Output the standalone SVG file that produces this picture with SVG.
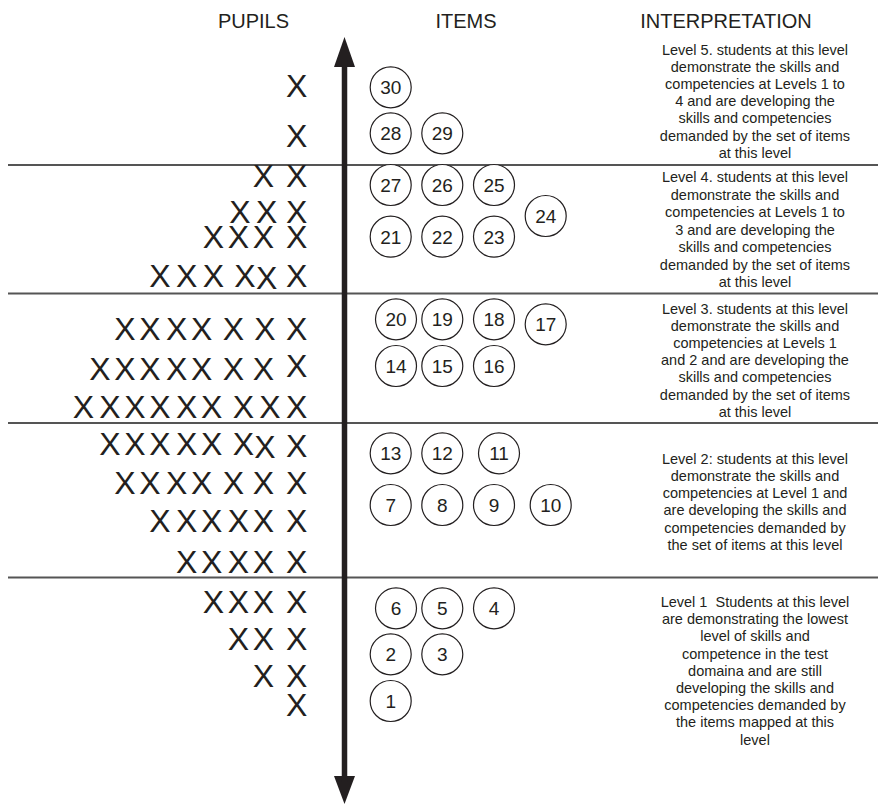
<svg xmlns="http://www.w3.org/2000/svg" width="878" height="805" viewBox="0 0 878 805">
<style>
text { font-family: "Liberation Sans", Arial, sans-serif; fill: #231f20; }
.hdr { font-size: 20px; text-anchor: middle; }
.x { font-size: 32px; text-anchor: middle; }
.num { font-size: 19px; text-anchor: middle; }
.interp { font-size: 14.5px; text-anchor: middle; white-space: pre; }
.item circle { fill: #fff; stroke: #231f20; stroke-width: 1.2; }
.sep { stroke: #555; stroke-width: 1.8; }
</style>
<defs>
<marker id="ah" viewBox="0 0 21 30" refX="0" refY="10.5" markerWidth="30" markerHeight="21" markerUnits="userSpaceOnUse" orient="auto-start-reverse">
<path d="M0,0 L30,10.5 L0,21 Z" fill="#231f20"/>
</marker>
</defs>
<rect width="878" height="805" fill="#fff"/>

<g id="headers">
<text class="hdr" x="253.5" y="28">PUPILS</text>
<text class="hdr" x="466" y="28">ITEMS</text>
<text class="hdr" x="726" y="28">INTERPRETATION</text>
</g>

<g id="separators">
<line class="sep" x1="8" y1="165" x2="878" y2="165"/>
<line class="sep" x1="8" y1="293.5" x2="878" y2="293.5"/>
<line class="sep" x1="8" y1="423" x2="878" y2="423"/>
<line class="sep" x1="8" y1="577.5" x2="878" y2="577.5"/>
</g>

<g id="connectors">
<polygon points="344.5,37 334,67 355,67" fill="#231f20"/>
<polygon points="344.5,804 334,776 355,776" fill="#231f20"/>
<line x1="344.5" y1="60" x2="344.5" y2="782" stroke="#231f20" stroke-width="5.5"/>
</g>

<g id="pupils">
<text class="x" x="296.7" y="97">X</text>
<text class="x" x="296.7" y="147">X</text>
<text class="x" x="263.3 280 296.7" y="187">X X</text>
<text class="x" x="240 266.7 282 296.7" y="223">XX X</text>
<text class="x" x="213.3 238.3 263.3 280 296.7" y="248">XXX X</text>
<text class="x" x="160 186.7 213.3 229 245 266.7 296.7" y="287 287 287 287 287 289 287">XXX XXX</text>
<text class="x" x="125 150 176.7 201.7 217 233.3 249 265 281 296.7" y="340">XXXX X X X</text>
<text class="x" x="100 125 150 176.7 201.7 217 233.3 248 263.3 280 296.7" y="380 380 380 380 380 380 380 380 380 380 377">XXXXX X X X</text>
<text class="x" x="83.3 110 135 160 186.7 211.7 227 243.3 270 296.7" y="418">XXXXXX XXX</text>
<text class="x" x="110 135 160 186.7 211.7 227 243.3 265 296.7" y="455 455 455 455 455 455 455 458 457">XXXXX XXX</text>
<text class="x" x="125 150 176.7 201.7 217 233.3 248 263.3 280 296.7" y="494">XXXX X X X</text>
<text class="x" x="160 186.7 211.7 238.3 263.3 280 296.7" y="532">XXXXX X</text>
<text class="x" x="186.7 211.7 238.3 263.3 280 296.7" y="573">XXXX X</text>
<text class="x" x="213.3 238.3 263.3 280 296.7" y="613">XXX X</text>
<text class="x" x="238.3 263.3 280 296.7" y="650">XX X</text>
<text class="x" x="263.3 280 296.7" y="687">X X</text>
<text class="x" x="296.7" y="716">X</text>
</g>

<g id="items">
<g id="item30" class="item"><circle cx="390.7" cy="87.3" r="20.5"/><text class="num" x="390.7" y="94.3">30</text></g>
<g id="item28" class="item"><circle cx="390.7" cy="133.3" r="20.5"/><text class="num" x="390.7" y="140.3">28</text></g>
<g id="item29" class="item"><circle cx="442.3" cy="133.3" r="20.5"/><text class="num" x="442.3" y="140.3">29</text></g>
<g id="item27" class="item"><circle cx="390.7" cy="185" r="20.5"/><text class="num" x="390.7" y="192">27</text></g>
<g id="item26" class="item"><circle cx="442.3" cy="185" r="20.5"/><text class="num" x="442.3" y="192">26</text></g>
<g id="item25" class="item"><circle cx="494" cy="185" r="20.5"/><text class="num" x="494" y="192">25</text></g>
<g id="item24" class="item"><circle cx="545.7" cy="216" r="20.5"/><text class="num" x="545.7" y="223">24</text></g>
<g id="item21" class="item"><circle cx="390.7" cy="236.7" r="20.5"/><text class="num" x="390.7" y="243.7">21</text></g>
<g id="item22" class="item"><circle cx="442.3" cy="236.7" r="20.5"/><text class="num" x="442.3" y="243.7">22</text></g>
<g id="item23" class="item"><circle cx="494" cy="236.7" r="20.5"/><text class="num" x="494" y="243.7">23</text></g>
<g id="item20" class="item"><circle cx="396" cy="319.3" r="20.5"/><text class="num" x="396" y="326.3">20</text></g>
<g id="item19" class="item"><circle cx="442.3" cy="319.3" r="20.5"/><text class="num" x="442.3" y="326.3">19</text></g>
<g id="item18" class="item"><circle cx="494" cy="319.3" r="20.5"/><text class="num" x="494" y="326.3">18</text></g>
<g id="item17" class="item"><circle cx="545.7" cy="324.3" r="20.5"/><text class="num" x="545.7" y="331.3">17</text></g>
<g id="item14" class="item"><circle cx="396" cy="366" r="20.5"/><text class="num" x="396" y="373">14</text></g>
<g id="item15" class="item"><circle cx="442.3" cy="366" r="20.5"/><text class="num" x="442.3" y="373">15</text></g>
<g id="item16" class="item"><circle cx="494" cy="366" r="20.5"/><text class="num" x="494" y="373">16</text></g>
<g id="item13" class="item"><circle cx="390.7" cy="453.3" r="20.5"/><text class="num" x="390.7" y="460.3">13</text></g>
<g id="item12" class="item"><circle cx="442.3" cy="453.3" r="20.5"/><text class="num" x="442.3" y="460.3">12</text></g>
<g id="item11" class="item"><circle cx="499" cy="453.3" r="20.5"/><text class="num" x="499" y="460.3">11</text></g>
<g id="item7" class="item"><circle cx="390.7" cy="505" r="20.5"/><text class="num" x="390.7" y="512">7</text></g>
<g id="item8" class="item"><circle cx="442.3" cy="505" r="20.5"/><text class="num" x="442.3" y="512">8</text></g>
<g id="item9" class="item"><circle cx="494" cy="505" r="20.5"/><text class="num" x="494" y="512">9</text></g>
<g id="item10" class="item"><circle cx="550.7" cy="505" r="20.5"/><text class="num" x="550.7" y="512">10</text></g>
<g id="item6" class="item"><circle cx="396" cy="608.3" r="20.5"/><text class="num" x="396" y="615.3">6</text></g>
<g id="item5" class="item"><circle cx="442.3" cy="608.3" r="20.5"/><text class="num" x="442.3" y="615.3">5</text></g>
<g id="item4" class="item"><circle cx="494" cy="608.3" r="20.5"/><text class="num" x="494" y="615.3">4</text></g>
<g id="item2" class="item"><circle cx="390.7" cy="654.3" r="20.5"/><text class="num" x="390.7" y="661.3">2</text></g>
<g id="item3" class="item"><circle cx="442.3" cy="654.3" r="20.5"/><text class="num" x="442.3" y="661.3">3</text></g>
<g id="item1" class="item"><circle cx="390.7" cy="701" r="20.5"/><text class="num" x="390.7" y="708">1</text></g>
</g>

<g id="interp-level5">
<text class="interp" y="54.5">
<tspan x="757" y="54.5">Level 5. students at this level</tspan>
<tspan x="757" dy="17.2">demonstrate the skills and</tspan>
<tspan x="757" dy="17.2">competencies at Levels 1 to</tspan>
<tspan x="757" dy="17.2">4 and are developing the</tspan>
<tspan x="757" dy="17.2">skills and competencies</tspan>
<tspan x="757" dy="17.2">demanded by the set of items</tspan>
<tspan x="757" dy="17.2">at this level</tspan>
</text>
</g>
<g id="interp-level4">
<text class="interp">
<tspan x="757" y="182">Level 4. students at this level</tspan>
<tspan x="757" dy="17.5">demonstrate the skills and</tspan>
<tspan x="757" dy="17.5">competencies at Levels 1 to</tspan>
<tspan x="757" dy="17.5">3 and are developing the</tspan>
<tspan x="757" dy="17.5">skills and competencies</tspan>
<tspan x="757" dy="17.5">demanded by the set of items</tspan>
<tspan x="757" dy="17.5">at this level</tspan>
</text>
</g>
<g id="interp-level3">
<text class="interp">
<tspan x="757" y="313.5">Level 3. students at this level</tspan>
<tspan x="757" dy="17.2">demonstrate the skills and</tspan>
<tspan x="757" dy="17.2">competencies at Levels 1</tspan>
<tspan x="757" dy="17.2">and 2 and are developing the</tspan>
<tspan x="757" dy="17.2">skills and competencies</tspan>
<tspan x="757" dy="17.2">demanded by the set of items</tspan>
<tspan x="757" dy="17.2">at this level</tspan>
</text>
</g>
<g id="interp-level2">
<text class="interp">
<tspan x="757" y="463.5">Level 2: students at this level</tspan>
<tspan x="757" dy="17.3">demonstrate the skills and</tspan>
<tspan x="757" dy="17.3">competencies at Level 1 and</tspan>
<tspan x="757" dy="17.3">are developing the skills and</tspan>
<tspan x="757" dy="17.3">competencies demanded by</tspan>
<tspan x="757" dy="17.3">the set of items at this level</tspan>
</text>
</g>
<g id="interp-level1">
<text class="interp">
<tspan x="757" y="607">Level 1  Students at this level</tspan>
<tspan x="757" dy="17.2">are demonstrating the lowest</tspan>
<tspan x="757" dy="17.2">level of skills and</tspan>
<tspan x="757" dy="17.2">competence in the test</tspan>
<tspan x="757" dy="17.2">domaina and are still</tspan>
<tspan x="757" dy="17.2">developing the skills and</tspan>
<tspan x="757" dy="17.2">competencies demanded by</tspan>
<tspan x="757" dy="17.2">the items mapped at this</tspan>
<tspan x="757" dy="17.2">level</tspan>
</text>
</g>
</svg>
